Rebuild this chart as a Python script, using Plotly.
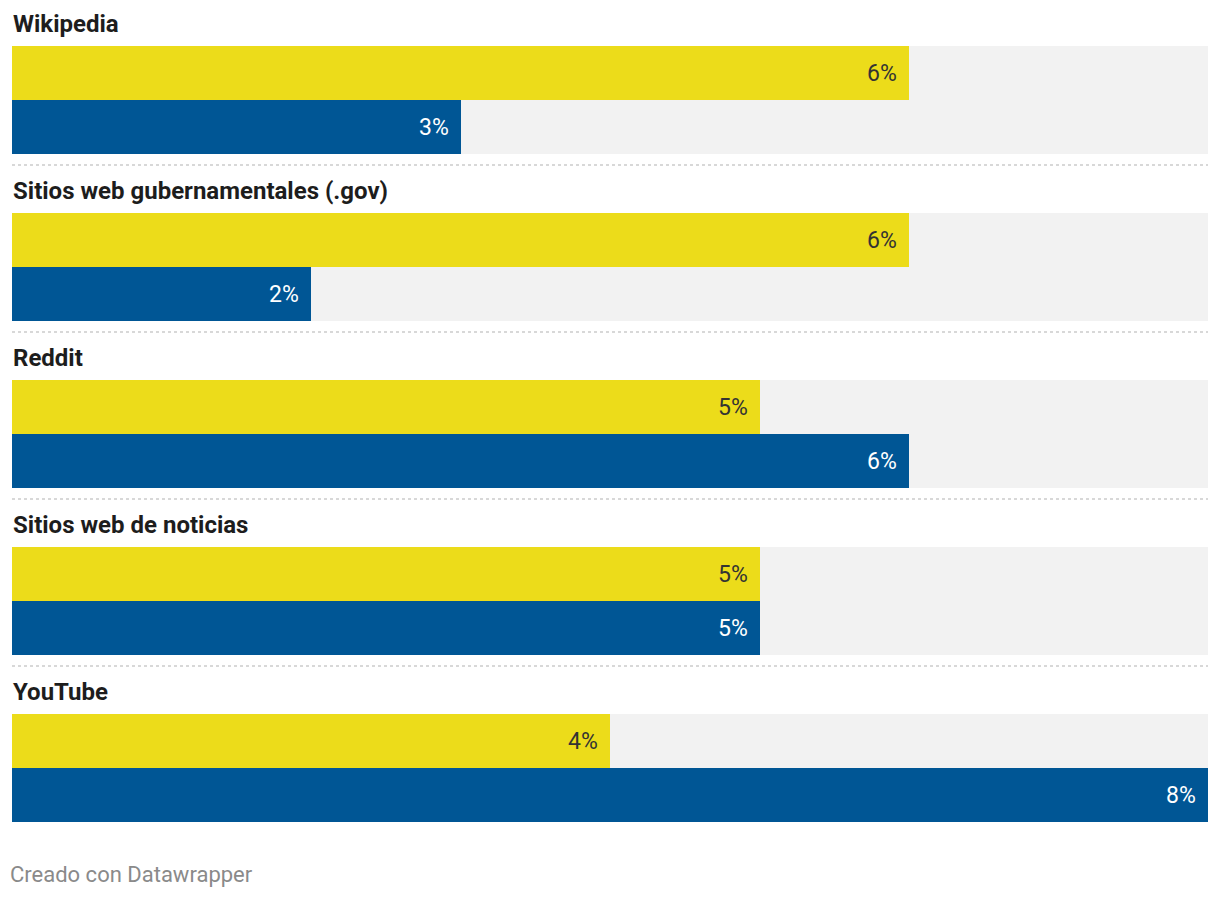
import plotly.graph_objects as go

categories = ["Wikipedia", "Sitios web gubernamentales (.gov)", "Reddit",
              "Sitios web de noticias", "YouTube"]
serie_amarilla = [6, 6, 5, 5, 4]
serie_azul = [3, 2, 6, 5, 8]
x_max = 8
footer = "Creado con Datawrapper"

YELLOW = "#ECDC1A"
BLUE = "#005695"
BG = "#F2F2F2"

PAGE_H = 898
OFF = 8  # browser body margin
pitch = 167
first_bar_top = 46
bar_h = 54

fig = go.Figure()
ycen_y, ycen_b = [], []
for i in range(len(categories)):
    top = first_bar_top + i * pitch
    ycen_y.append(top + bar_h / 2)
    ycen_b.append(top + bar_h * 1.5)

fig.add_trace(go.Bar(orientation="h", y=ycen_y + ycen_b, x=[x_max] * (2 * len(categories)),
                     width=bar_h, marker=dict(color=BG, line=dict(width=0)),
                     hoverinfo="skip", showlegend=False))
fig.add_trace(go.Bar(orientation="h", y=ycen_y, x=serie_amarilla, width=bar_h,
                     marker=dict(color=YELLOW, line=dict(width=0)), showlegend=False))
fig.add_trace(go.Bar(orientation="h", y=ycen_b, x=serie_azul, width=bar_h,
                     marker=dict(color=BLUE, line=dict(width=0)), showlegend=False))

annotations = []
shapes = []
for i, cat in enumerate(categories):
    top = first_bar_top + i * pitch
    annotations.append(dict(x=0, y=top - 22, xref="x", yref="y", text=f"<b>{cat}</b>",
                            showarrow=False, xanchor="left", yanchor="middle", xshift=-1,
                            font=dict(family="Roboto", size=24, color="#1d1d1d")))
    annotations.append(dict(x=serie_amarilla[i], y=ycen_y[i], xref="x", yref="y",
                            text=f"{serie_amarilla[i]}%", showarrow=False,
                            xanchor="right", yanchor="middle", xshift=-10,
                            font=dict(family="Roboto", size=23, color="#333333")))
    annotations.append(dict(x=serie_azul[i], y=ycen_b[i], xref="x", yref="y",
                            text=f"{serie_azul[i]}%", showarrow=False,
                            xanchor="right", yanchor="middle", xshift=-10,
                            font=dict(family="Roboto", size=23, color="#ffffff")))
    if i < len(categories) - 1:
        sy = top + 2 * bar_h + 11
        shapes.append(dict(type="line", xref="paper", yref="y", x0=0, x1=1, y0=sy, y1=sy,
                           line=dict(color="#cccccc", width=1.5, dash="dot")))

annotations.append(dict(x=0, y=874, xref="paper", yref="y", text=footer,
                        showarrow=False, xanchor="left", yanchor="middle", xshift=-4,
                        font=dict(family="Roboto", size=22, color="#8a8a8a")))

fig.update_layout(
    width=1220 - OFF, height=PAGE_H - OFF,
    margin=dict(l=12 - OFF, r=12, t=0, b=0),
    paper_bgcolor="white", plot_bgcolor="white",
    barmode="overlay", bargap=0,
    xaxis=dict(range=[0, x_max], visible=False, fixedrange=True),
    yaxis=dict(range=[PAGE_H, OFF], autorange=False, visible=False, fixedrange=True),
    annotations=annotations, shapes=shapes,
    font=dict(family="Roboto"),
)
fig.write_html("out.html")
